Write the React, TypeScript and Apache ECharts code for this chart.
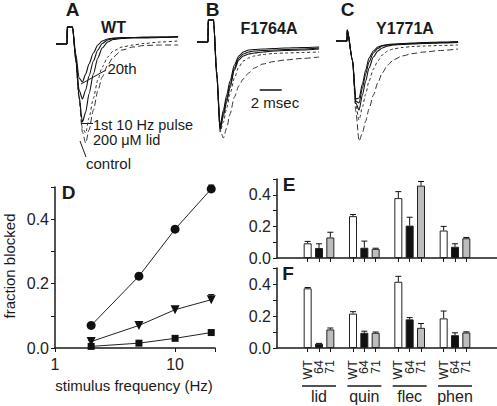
import React, { useEffect, useRef } from "react";
import * as echarts from "echarts";

const FONT = '"Liberation Sans", Arial, Helvetica, sans-serif';
const INK = "#1a1a1a";

// ---------- Panels A–C: Na current traces (time in ms, current in relative units, baseline = 0)
const traceTime = [0, 1.0, 1.02, 1.5, 1.8, 2.1, 2.4, 2.7, 3.0, 3.4, 3.8, 4.2, 4.7, 5.2, 6.0, 7.0, 8.0, 9.5, 11.1];

const wtControl = [0, 0, 17, 17, -16, -55, -88, -99, -86, -66, -47, -33, -21, -13, -6, -3, -1.5, -1, -1];
const wtLid = [0, 0, 17, 17, -16, -54, -84, -89, -74, -54, -36, -23, -13, -7, -3, -1, 0.5, 2, 3];
const wtFirst = [0, 0, 17, 17, -16, -52, -78, -68, -50, -30, -14, -4, 2, 4.5, 5.5, 6, 6, 6.5, 7];
const wtMid = [0, 0, 17, 17, -14, -46, -55, -46, -32, -17, -6, 0.5, 4, 5.5, 6, 6.5, 6.5, 7, 7];
const wt20th = [0, 0, 17, 17, -10, -34, -38, -30, -20, -9, -1, 3, 5, 6, 6.5, 6.5, 7, 7, 7.5];

const f64Control = [0, 0, 22, 22, -30, -88, -96, -86, -72, -55, -44, -37, -31, -26, -22, -19.5, -18, -16.5, -15];
const f64Lid = [0, 0, 22, 22, -34, -90, -80, -66, -52, -36, -25, -19, -16, -14, -12.5, -11.5, -11, -10.5, -10];
const f64First = [0, 0, 22, 22, -34, -88, -74, -60, -46, -28, -18, -14, -12, -11, -10, -9, -8.5, -8, -7];
const f64Mid = [0, 0, 22, 22, -33, -86, -71, -57, -43, -26, -16, -12, -10, -9, -8.5, -8, -7.5, -7, -6];
const f6420th = [0, 0, 22, 22, -32, -84, -68, -53, -39, -23, -14, -10, -8, -7.5, -7, -6.5, -6, -5.5, -5];

const y71Control = [0, 0, 11, -20, -70, -100, -92, -80, -68, -54, -42, -32, -24, -19, -15, -12.5, -11, -9.5, -8];
const y71Lid = [0, 0, 11, -20, -64, -79, -66, -53, -40, -28, -20, -14, -10, -8, -6.5, -5.5, -5, -4.5, -4];
const y71First = [0, 0, 11, -19, -62, -69, -54, -40, -27, -16, -10, -7, -5, -4, -3.5, -3, -2.5, -2, -1.5];
const y71Mid = [0, 0, 11, -19, -60, -62, -47, -33, -21, -12, -7.5, -5, -4, -3.5, -3, -2.5, -2, -1.5, -1];
const y7120th = [0, 0, 11, -19, -58, -57, -43, -29, -17, -10, -6, -4.5, -3.5, -3, -2.5, -2, -1.5, -1, -0.5];

const scaleBarTime = [5.7, 7.7]; // 2 msec
const scaleBarLevel = -48;

// ---------- Panel D: fraction blocked vs stimulus frequency
const freqHz = [2, 5, 10, 20];
const dCircle = [0.07, 0.223, 0.369, 0.494];
const dCircleErr = [0.004, 0.008, 0.006, 0.012];
const dTriangle = [0.02, 0.07, 0.119, 0.15];
const dTriangleErr = [0.004, 0.004, 0.008, 0.016];
const dSquare = [0.005, 0.015, 0.03, 0.048];
const dSquareErr = [0.002, 0.002, 0.003, 0.004];

// ---------- Panels E & F: bars
const drugs = ["lid", "quin", "flec", "phen"];
const mutants = ["WT", "64", "71"];
const eWT = [0.093, 0.265, 0.379, 0.174];
const eWTErr = [0.012, 0.01, 0.041, 0.026];
const e64 = [0.063, 0.065, 0.205, 0.071];
const e64Err = [0.027, 0.042, 0.053, 0.019];
const e71 = [0.13, 0.058, 0.458, 0.125];
const e71Err = [0.033, 0.004, 0.026, 0.005];
const fWT = [0.373, 0.215, 0.414, 0.185];
const fWTErr = [0.005, 0.012, 0.034, 0.046];
const f64 = [0.027, 0.095, 0.179, 0.08];
const f64Err = [0.002, 0.01, 0.011, 0.015];
const f71 = [0.116, 0.095, 0.126, 0.097];
const f71Err = [0.009, 0.005, 0.027, 0.004];

const SLOTS = drugs.length * 4 - 1;
const slotLabels = Array.from({ length: SLOTS }, (_, i) => (i % 4 === 3 ? "" : mutants[i % 4]));
const groupLabels = Array.from({ length: SLOTS }, (_, i) => (i % 4 === 1 ? drugs[(i - 1) / 4] : ""));

function traceSeries(axis: number, vals: number[], kind: string) {
  const dash = kind === "control" ? [6, 3] : kind === "lid" ? [3, 2.5] : "solid";
  return {
    type: "line",
    xAxisIndex: axis,
    yAxisIndex: axis,
    data: traceTime.map((t, i) => [t, vals[i]]),
    symbol: "none",
    smooth: 0.25,
    smoothMonotone: "x",
    clip: false,
    lineStyle: { color: kind === "solid" ? "#111" : "#333", width: kind === "solid" ? 1.1 : 1, type: dash as any },
    z: kind === "solid" ? 3 : 2,
    silent: true,
  };
}

function errorSeries(xAxisIndex: number, yAxisIndex: number, data: number[][], cap: number) {
  return {
    type: "custom",
    xAxisIndex,
    yAxisIndex,
    data,
    z: 6,
    silent: true,
    clip: false,
    renderItem: (_p: any, api: any) => {
      const x = api.value(0);
      const y = api.value(1);
      const e = api.value(2);
      const p0 = api.coord([x, y]);
      const p1 = api.coord([x, y + e]);
      return {
        type: "group",
        children: [
          { type: "line", shape: { x1: p0[0], y1: p0[1], x2: p1[0], y2: p1[1] }, style: { stroke: "#111", lineWidth: 1 } },
          { type: "line", shape: { x1: p1[0] - cap, y1: p1[1], x2: p1[0] + cap, y2: p1[1] }, style: { stroke: "#111", lineWidth: 1 } },
        ],
      };
    },
  };
}

function slotData(vals: number[], m: number) {
  const d: any[] = Array(SLOTS).fill("-");
  vals.forEach((v, g) => (d[g * 4 + m] = v));
  return d;
}

const barFill = ["#ffffff", "#111111", "#bdbdbd"];

function barSeries(axis: number, vals: number[], m: number) {
  return {
    type: "bar",
    xAxisIndex: axis,
    yAxisIndex: axis,
    data: slotData(vals, m),
    barWidth: 8,
    barGap: "-100%",
    itemStyle: { color: barFill[m], borderColor: "#222", borderWidth: 1 },
    silent: true,
    z: 3,
  };
}

function errData(vals: number[], errs: number[], m: number) {
  return vals.map((v, g) => [g * 4 + m, v, errs[g]]);
}

const yLabelFmt = (v: number) => {
  const k = Math.round(v * 10);
  return k % 2 === 0 && k <= 4 ? (k / 10).toFixed(1) : "";
};

const hiddenAxis = (grid: number, min: number, max: number) => ({
  type: "value",
  gridIndex: grid,
  min,
  max,
  show: false,
});

const fracYAxis = (grid: number) => ({
  type: "value",
  gridIndex: grid,
  min: 0,
  max: 0.5,
  interval: 0.1,
  axisLine: { show: true, lineStyle: { color: INK, width: 1.5 } },
  axisTick: { show: true, length: 4, lineStyle: { color: INK } },
  axisLabel: { formatter: yLabelFmt, color: "#222", fontSize: 16, fontFamily: FONT, margin: 6 },
  splitLine: { show: false },
});

export default function App() {
  const ref = useRef<HTMLDivElement>(null);
  useEffect(() => {
    if (!ref.current) return;
    const chart = echarts.init(ref.current, undefined, { renderer: "svg" });

    const grids = [
      { left: 56, top: 20, width: 132, height: 144 }, // A
      { left: 197, top: 20, width: 132, height: 144 }, // B
      { left: 336, top: 20, width: 132, height: 144 }, // C
      { left: 55, top: 187, width: 160, height: 161 }, // D
      { left: 277, top: 179, width: 220, height: 79 }, // E axes
      { left: 302, top: 179, width: 170, height: 79 }, // E bars
      { left: 277, top: 268, width: 220, height: 80 }, // F axes
      { left: 302, top: 268, width: 170, height: 80 }, // F bars
    ];

    const xAxis: any[] = [
      hiddenAxis(0, 0, 12),
      hiddenAxis(1, 0, 12),
      hiddenAxis(2, 0, 12),
      {
        type: "log",
        gridIndex: 3,
        logBase: 10,
        min: 1,
        max: 21.5,
        axisLine: { show: true, lineStyle: { color: INK, width: 1.5 } },
        axisTick: { show: true, length: 4, lineStyle: { color: INK } },
        axisLabel: {
          color: "#222",
          fontSize: 16,
          fontFamily: FONT,
          margin: 8,
          formatter: (v: number) => (Math.abs(v - 1) < 1e-6 ? "1" : Math.abs(v - 10) < 1e-6 ? "10" : ""),
        },
        splitLine: { show: false },
      },
      {
        type: "value",
        gridIndex: 4,
        min: 0,
        max: 1,
        axisLine: { show: true, onZero: false, lineStyle: { color: INK, width: 1.5 } },
        axisTick: { show: false },
        axisLabel: { show: false },
        splitLine: { show: false },
      },
      {
        type: "category",
        gridIndex: 5,
        data: slotLabels,
        axisLine: { show: false },
        axisTick: { show: true, alignWithLabel: true, length: 4, interval: (_i: number, v: string) => v !== "", lineStyle: { color: INK } },
        axisLabel: { show: false },
      },
      {
        type: "value",
        gridIndex: 6,
        min: 0,
        max: 1,
        axisLine: { show: true, onZero: false, lineStyle: { color: INK, width: 1.5 } },
        axisTick: { show: false },
        axisLabel: { show: false },
        splitLine: { show: false },
      },
      {
        type: "category",
        gridIndex: 7,
        data: slotLabels,
        axisLine: { show: false },
        axisTick: { show: true, alignWithLabel: true, length: 4, interval: (_i: number, v: string) => v !== "", lineStyle: { color: INK } },
        axisLabel: { show: true, interval: 0, rotate: 90, fontSize: 12.5, fontFamily: FONT, color: "#222", margin: 12 },
      },
      {
        type: "category",
        gridIndex: 7,
        data: groupLabels,
        position: "bottom",
        offset: 32,
        axisLine: { show: false },
        axisTick: { show: false },
        axisLabel: { show: true, interval: 0, fontSize: 16, fontFamily: FONT, color: "#222", margin: 8 },
      },
    ];

    const yAxis: any[] = [
      hiddenAxis(0, -120, 24),
      hiddenAxis(1, -122, 22),
      hiddenAxis(2, -123, 21),
      fracYAxis(3),
      fracYAxis(4),
      hiddenAxis(5, 0, 0.5),
      fracYAxis(6),
      hiddenAxis(7, 0, 0.5),
    ];

    const series: any[] = [
      traceSeries(0, wtControl, "control"),
      traceSeries(0, wtLid, "lid"),
      traceSeries(0, wtFirst, "solid"),
      traceSeries(0, wtMid, "solid"),
      traceSeries(0, wt20th, "solid"),
      traceSeries(1, f64Control, "control"),
      traceSeries(1, f64Lid, "lid"),
      traceSeries(1, f64First, "solid"),
      traceSeries(1, f64Mid, "solid"),
      traceSeries(1, f6420th, "solid"),
      traceSeries(2, y71Control, "control"),
      traceSeries(2, y71Lid, "lid"),
      traceSeries(2, y71First, "solid"),
      traceSeries(2, y71Mid, "solid"),
      traceSeries(2, y7120th, "solid"),
      {
        type: "line",
        xAxisIndex: 1,
        yAxisIndex: 1,
        data: scaleBarTime.map((t) => [t, scaleBarLevel]),
        symbol: "none",
        lineStyle: { color: "#111", width: 1.6 },
        silent: true,
      },
      // Panel D
      {
        type: "line", xAxisIndex: 3, yAxisIndex: 3,
        data: freqHz.map((f, i) => [f, dCircle[i]]),
        symbol: "circle", symbolSize: 9,
        itemStyle: { color: "#111" }, lineStyle: { color: "#222", width: 1 }, silent: true,
      },
      {
        type: "line", xAxisIndex: 3, yAxisIndex: 3,
        data: freqHz.map((f, i) => [f, dTriangle[i]]),
        symbol: "triangle", symbolRotate: 180, symbolSize: 9,
        itemStyle: { color: "#111" }, lineStyle: { color: "#222", width: 1 }, silent: true,
      },
      {
        type: "line", xAxisIndex: 3, yAxisIndex: 3,
        data: freqHz.map((f, i) => [f, dSquare[i]]),
        symbol: "rect", symbolSize: 7,
        itemStyle: { color: "#111" }, lineStyle: { color: "#222", width: 1 }, silent: true,
      },
      errorSeries(3, 3, freqHz.map((f, i) => [f, dCircle[i], dCircleErr[i]]), 3),
      errorSeries(3, 3, freqHz.map((f, i) => [f, dTriangle[i], dTriangleErr[i]]), 3),
      errorSeries(3, 3, freqHz.map((f, i) => [f, dSquare[i], dSquareErr[i]]), 3),
      // Panel E
      barSeries(5, eWT, 0),
      barSeries(5, e64, 1),
      barSeries(5, e71, 2),
      errorSeries(5, 5, errData(eWT, eWTErr, 0), 3),
      errorSeries(5, 5, errData(e64, e64Err, 1), 3),
      errorSeries(5, 5, errData(e71, e71Err, 2), 3),
      // Panel F
      barSeries(7, fWT, 0),
      barSeries(7, f64, 1),
      barSeries(7, f71, 2),
      errorSeries(7, 7, errData(fWT, fWTErr, 0), 3),
      errorSeries(7, 7, errData(f64, f64Err, 1), 3),
      errorSeries(7, 7, errData(f71, f71Err, 2), 3),
    ];

    chart.setOption({
      animation: false,
      backgroundColor: "#ffffff",
      textStyle: { fontFamily: FONT },
      grid: grids,
      xAxis,
      yAxis,
      series,
    });

    const txt = (text: string, x: number, y: number, size: number, bold = false, align = "center", rotation = 0) => ({
      type: "text",
      x,
      y,
      rotation,
      silent: true,
      style: {
        text,
        fontSize: size,
        lineHeight: size,
        fontWeight: bold ? "bold" : "normal",
        fontFamily: FONT,
        fill: "#1a1a1a",
        align,
        verticalAlign: "middle",
      },
    });
    const ln = (x1: number, y1: number, x2: number, y2: number, w = 1) => ({
      type: "line",
      silent: true,
      shape: { x1, y1, x2, y2 },
      style: { stroke: "#1a1a1a", lineWidth: w },
    });

    const overlines = drugs.map((_d, g) => {
      const c = chart.convertToPixel({ gridIndex: 7 } as any, [g * 4 + 1, 0]) as number[];
      return ln(c[0] - 17, 386, c[0] + 17, 386, 1.5);
    });

    chart.setOption({
      graphic: [
        txt("A", 72.5, 9, 19, true),
        txt("WT", 113.5, 27.5, 16, true),
        txt("B", 212.5, 9, 19, true),
        txt("F1764A", 269, 28.5, 16, true),
        txt("C", 347.5, 9, 19, true),
        txt("Y1771A", 405, 28.5, 16, true),
        txt("20th", 122, 68.5, 15),
        ln(81, 84, 106, 70),
        txt("1st 10 Hz pulse", 93, 124.5, 14.5, false, "left"),
        ln(81, 123.5, 93, 123.5),
        txt("200 μM lid", 93, 140, 14.5, false, "left"),
        txt("control", 86, 163, 15, false, "left"),
        ln(80, 141, 86, 157),
        txt("2 msec", 275, 102.5, 15),
        txt("D", 68.5, 192, 19, true),
        txt("E", 289, 184.5, 19, true),
        txt("F", 288, 273, 19, true),
        txt("fraction blocked", 9, 266, 15, false, "center", Math.PI / 2),
        txt("stimulus frequency (Hz)", 134, 385, 15),
        ...overlines,
      ],
    });

    return () => chart.dispose();
  }, []);

  return <div ref={ref} style={{ position: "absolute", left: 0, top: 0, width: 497, height: 406 }} />;
}
